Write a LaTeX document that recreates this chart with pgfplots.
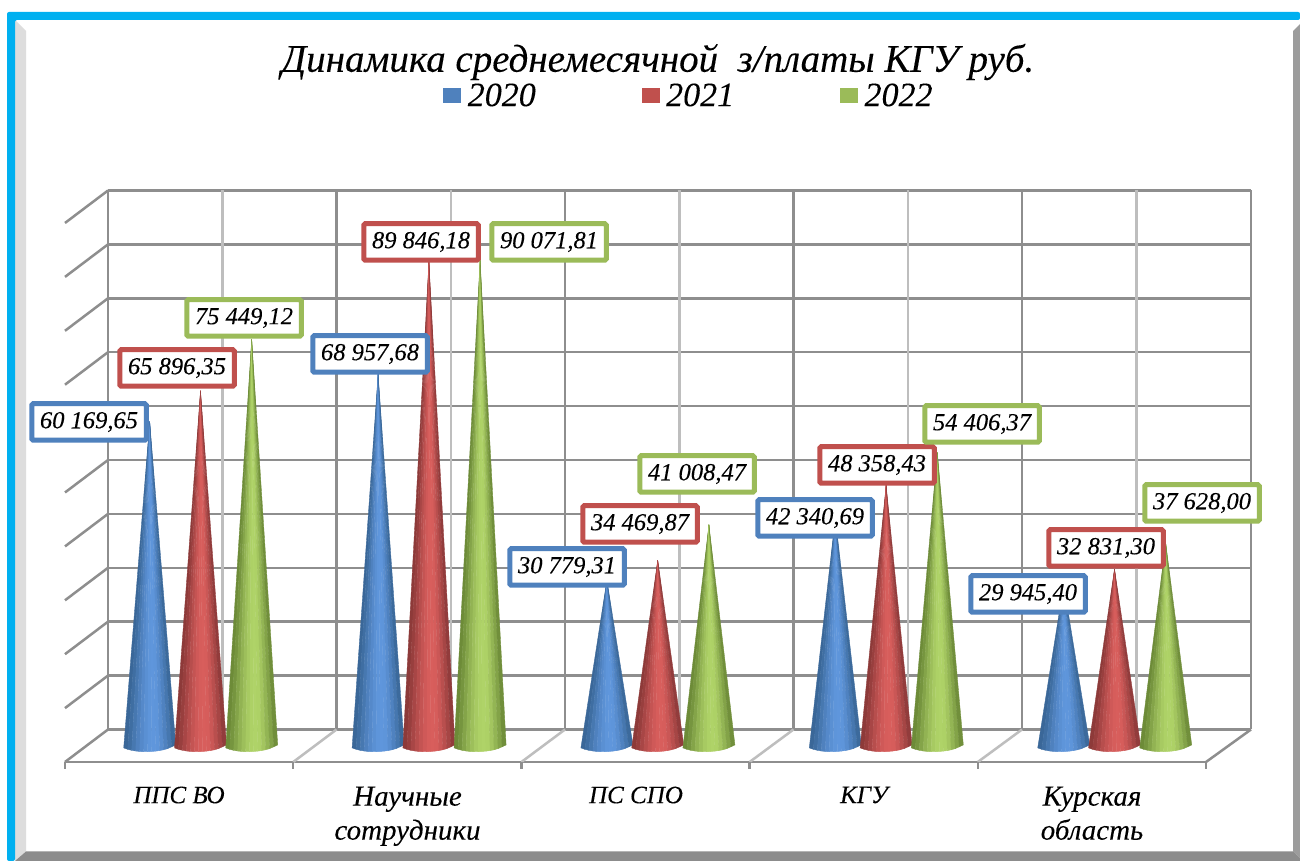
\documentclass[border=0pt]{standalone}
\usepackage{fontspec}
\setmainfont{Liberation Serif}[ItalicFeatures={FakeBold=0.12}]
\usepackage{pgfplots}
\pgfplotsset{compat=1.18}
\definecolor{cB}{HTML}{4F81BD}
\definecolor{cR}{HTML}{C0504D}
\definecolor{cG}{HTML}{9BBB59}
\definecolor{gridD}{HTML}{8E8E8E}
\definecolor{gridL}{HTML}{BEBEBE}
\definecolor{frL}{HTML}{DDDDDD}
\definecolor{frR}{HTML}{9C9C9C}
\definecolor{frB}{HTML}{8C8C8C}
\definecolor{frT}{HTML}{00B0F0}
\definecolor{bD}{HTML}{386595}\definecolor{bL}{HTML}{5F96DC}
\definecolor{rD}{HTML}{8A3838}\definecolor{rL}{HTML}{D85E5C}
\definecolor{gD}{HTML}{6A8836}\definecolor{gL}{HTML}{AFD368}
\newcommand{\lc}{\fontsize{29}{34}\selectfont}
% one facet of a cone: centre, value, offset/base-y left, offset/base-y right, mix, colour
\newcommand{\conefacet}[8]{%
  \pgfmathsetmacro\xa{#1+#3}\pgfmathsetmacro\xb{#1+#5}%
  \addplot[forget plot,fill=#8L!#7!#8D,draw=#8L!#7!#8D,line width=.35pt] coordinates {(#1,#2) (\xa,#4) (\xb,#6) (#1,#2)};
}
% one cone: centre in picture units, value, colour family (b, r, g)
\newcommand{\cone}[3]{%
  \def\fm##1##2##3##4##5{\conefacet{#1}{#2}{##1}{##2}{##3}{##4}{##5}{#3}}%
  \fm{-26}{-350}{-22}{-620}{4}%
  \fm{-22}{-620}{-18}{-800}{18}%
  \fm{-18}{-800}{-14}{-930}{38}%
  \fm{-14}{-930}{-10}{-1020}{58}%
  \fm{-10}{-1020}{-6}{-1060}{74}%
  \fm{-6}{-1060}{-2}{-1060}{88}%
  \fm{-2}{-1060}{2}{-1020}{97}%
  \fm{2}{-1020}{6}{-950}{100}%
  \fm{6}{-950}{10}{-850}{97}%
  \fm{10}{-850}{14}{-700}{82}%
  \fm{14}{-700}{18}{-480}{60}%
  \fm{18}{-480}{22}{-150}{36}%
  \fm{22}{-150}{26}{200}{10}%
}
\newcommand{\dlab}[4]{\node[draw=#3,line width=5pt,rounded corners=1.5pt,fill=white,inner sep=0pt,
  minimum width=114.5pt,minimum height=36.5pt,font=\fontsize{24.5}{27}\selectfont\itshape] at (#1,#2) {#4};}
\begin{document}
\begin{tikzpicture}
\path[use as bounding box] (0,0) rectangle (1300pt,861pt);
\begin{scope}[x=1pt,y=-1pt,yshift=861pt]
  \fill[white] (0,0) rectangle (1300,861);
  \fill[frL] (15,20) -- (26,31) -- (26,851.5) -- (15,861) -- cycle;
  \fill[frR] (1293,31) -- (1300,24) -- (1300,858) -- (1293,851.5) -- cycle;
  \fill[frB] (15,861) -- (26,851.5) -- (1293,851.5) -- (1300,858) -- (1300,861) -- cycle;
  \fill[frT,rounded corners=2pt] (7,861) -- (7,12) -- (1300,12) -- (1300,20) -- (15,20) -- (15,861) -- cycle;
\end{scope}
\begin{axis}[
  at={(0,0)},anchor=south west,
  width=1300pt,height=861pt,scale only axis,
  xmin=0,xmax=1300,ymin=-21335.8,ymax=138404.5,
  clip=false,
  axis x line=bottom,axis y line=none,
  x axis line style={draw=none,-},
  tick style={draw=none},
  ytick=\empty,
  xtick={179,407.5,636,864,1092},
  xticklabels={ППС ВО,{\lc Научные\\\lc сотрудники},ПС СПО,КГУ,{\lc Курская\\\lc область}},
  x tick label style={align=center,anchor=north,yshift=80pt,
    font=\fontsize{25}{34}\selectfont\itshape},
  title={Динамика среднемесячной\ \ з/платы КГУ руб.},
  title style={at={(0.506,0.921)},anchor=center,font=\fontsize{39}{42}\selectfont\itshape},
  legend style={at={(0.530,0.889)},anchor=center,draw=none,fill=none,inner sep=0pt,
    font=\fontsize{34}{36}\selectfont\itshape,
    /tikz/every odd column/.append style={column sep=5pt},
    /tikz/every even column/.append style={column sep=104pt}},
  legend columns=3,
  legend image code/.code={\fill[#1] (0pt,-7pt) rectangle (17pt,7pt);},
]
\addlegendimage{cB}\addlegendentry{2020}
\addlegendimage{cR}\addlegendentry{2021}
\addlegendimage{cG}\addlegendentry{2022}
% horizontal grid on the back wall
\pgfplotsinvokeforeach{3061,13061,23061,33061,43061,53061,63061,73061,83061,93061,103061}{
  \addplot[forget plot,gridD,line width=2.5pt] coordinates {(108,#1) (1251,#1)};
}
% side wall
\addplot[forget plot,gridD,line width=2.5pt] coordinates {(108,13061) (65,7032)};
\addplot[forget plot,gridD,line width=2.5pt] coordinates {(108,23061) (65,17032)};
\addplot[forget plot,gridD,line width=2.5pt] coordinates {(108,33061) (65,27032)};
\addplot[forget plot,gridD,line width=2.5pt] coordinates {(108,43061) (65,37032)};
\addplot[forget plot,gridD,line width=2.5pt] coordinates {(108,53061) (65,47032)};
\addplot[forget plot,gridD,line width=2.5pt] coordinates {(108,63061) (65,57032)};
\addplot[forget plot,gridD,line width=2.5pt] coordinates {(108,73061) (65,67032)};
\addplot[forget plot,gridD,line width=2.5pt] coordinates {(108,83061) (65,77032)};
\addplot[forget plot,gridD,line width=2.5pt] coordinates {(108,93061) (65,87032)};
\addplot[forget plot,gridD,line width=2.5pt] coordinates {(108,103061) (65,97032)};
% vertical grid lines
\pgfplotsinvokeforeach{222.3,451,679.5,908,1136.5}{
  \addplot[forget plot,gridL,line width=2.5pt] coordinates {(#1,3061) (#1,103061)};
}
\pgfplotsinvokeforeach{108,336.5,565,793.5,1022,1251}{
  \addplot[forget plot,gridD,line width=2.5pt] coordinates {(#1,3061) (#1,103061)};
}
% floor
\addplot[forget plot,gridD,line width=2.5pt] coordinates {(65,-2968) (1206,-2968)};
\addplot[forget plot,gridD,line width=2.5pt] coordinates {(108,3061) (65,-2968)};
\addplot[forget plot,gridL,line width=2.5pt] coordinates {(336.5,3061) (293.2,-2968)};
\addplot[forget plot,gridL,line width=2.5pt] coordinates {(565,3061) (521.4,-2968)};
\addplot[forget plot,gridL,line width=2.5pt] coordinates {(793.5,3061) (749.6,-2968)};
\addplot[forget plot,gridL,line width=2.5pt] coordinates {(1022,3061) (977.8,-2968)};
\addplot[forget plot,gridD,line width=2.5pt] coordinates {(1251,3061) (1206,-2968)};
\pgfplotsinvokeforeach{65,293.2,521.4,749.6,977.8,1206}{
  \addplot[forget plot,gridD,line width=2.5pt] coordinates {(#1,-2968) (#1,-4267)};
}
% cones
\cone{149.7}{60169.65}{b}
\cone{200.5}{65896.35}{r}
\cone{251.7}{75449.12}{g}
\cone{378.1}{68957.68}{b}
\cone{428.9}{89846.18}{r}
\cone{480.1}{90071.81}{g}
\cone{606.9}{30779.31}{b}
\cone{657.7}{34469.87}{r}
\cone{708.9}{41008.47}{g}
\cone{835.3}{42340.69}{b}
\cone{886.1}{48358.43}{r}
\cone{937.3}{54406.37}{g}
\cone{1063.7}{29945.40}{b}
\cone{1114.5}{32831.30}{r}
\cone{1165.7}{37628.00}{g}
\end{axis}
\begin{scope}[x=1pt,y=-1pt,yshift=861pt]
  \dlab{89}{422}{cB}{60 169,65}
  \dlab{177}{368}{cR}{65 896,35}
  \dlab{244}{318}{cG}{75 449,12}
  \dlab{370}{354}{cB}{68 957,68}
  \dlab{421}{242}{cR}{89 846,18}
  \dlab{549}{242}{cG}{90 071,81}
  \dlab{567}{567}{cB}{30 779,31}
  \dlab{640}{524}{cR}{34 469,87}
  \dlab{697}{474}{cG}{41 008,47}
  \dlab{815}{518}{cB}{42 340,69}
  \dlab{877}{465}{cR}{48 358,43}
  \dlab{982}{424}{cG}{54 406,37}
  \dlab{1028}{594}{cB}{29 945,40}
  \dlab{1106}{548}{cR}{32 831,30}
  \dlab{1202}{503}{cG}{37 628,00}
\end{scope}
\end{tikzpicture}
\end{document}
